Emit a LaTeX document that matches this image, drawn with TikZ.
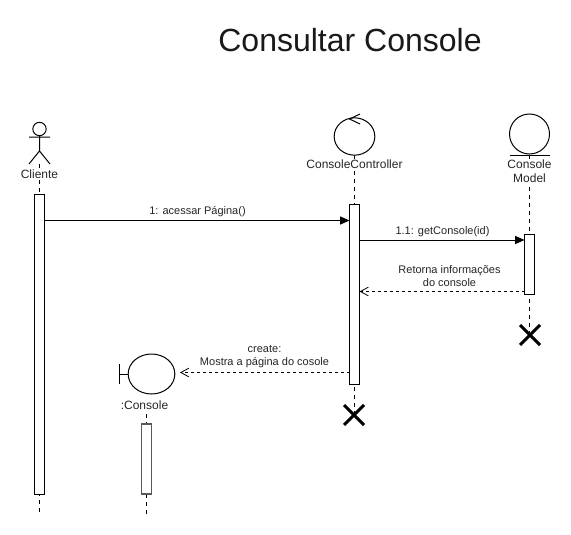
\documentclass[tikz,border=0pt]{standalone}
\usepackage{fontspec}
\setmainfont{Liberation Sans}
\usetikzlibrary{arrows.meta,shapes.geometric}
\tikzset{
  x=0.75pt,y=-0.75pt,
  every node/.style={inner sep=0pt,outer sep=0pt},
  lbl/.style={font=\fontsize{8.25pt}{9.75pt}\selectfont,align=center,text=black!85},
  namelbl/.style={font=\fontsize{9pt}{10.5pt}\selectfont,align=center,text=black!85,fill=white,inner xsep=1pt,inner ysep=1pt},
  life/.style={draw=black,line width=0.75pt,dash pattern=on 3pt off 3pt},
  activation/.style={draw=black,fill=white,line width=0.75pt,minimum width=7.5pt,anchor=north},
  msg/.style={draw=black,line width=0.75pt,-{Triangle[length=7pt,width=6pt]}},
  reply/.style={draw=black,line width=0.75pt,dash pattern=on 2.25pt off 2.25pt,-{Straight Barb[length=6pt,width=6.5pt,line width=0.6pt]}},
  shapeline/.style={draw=black,line width=0.75pt},
  destroy/.style={draw=black,line width=2.2pt}
}
\begin{document}
\begin{tikzpicture}
\useasboundingbox (0,0) rectangle (571,535);
\fill[white] (0,0) rectangle (571,535);
\node[font=\fontsize{24pt}{28pt}\selectfont,text=black!90] (title) at (350,40) {Consultar Console};

% lifeline end coordinates
\coordinate (clienteTop) at (39.5,164);
\coordinate (clienteEnd) at (39.5,514);
\coordinate (ctrlTop) at (354.5,155);
\coordinate (ctrlEnd) at (354.5,414);
\coordinate (modelTop) at (529.5,155);
\coordinate (modelEnd) at (529.5,335);
\coordinate (bndTop) at (146.5,414);
\coordinate (bndEnd) at (146.5,514);

\draw[life] (clienteTop) -- (clienteEnd);
\draw[life] (ctrlTop) -- (ctrlEnd);
\draw[life] (modelTop) -- (modelEnd);
\draw[life] (bndTop) -- (bndEnd);

% actor
\draw[shapeline] (39.5,129) circle[radius=5pt];
\draw[shapeline] (39.5,135.7) -- (39.5,151) (29,137) -- (50,137) (29,164) -- (39.5,151) -- (50,164);
\node[namelbl] (cliente) at (39.5,174.5) {Cliente};

% control
\node[draw=black,line width=0.75pt,ellipse,minimum width=30.5pt,minimum height=28pt,fill=white] (ctrl) at (354.5,136.5) {};
\draw[shapeline] (360,114) -- (349.5,119) -- (360,124);
\node[namelbl] (ctrlL) at (354.5,164.5) {ConsoleController};

% entity
\node[draw=black,line width=0.75pt,circle,minimum size=30pt,fill=white] (model) at (529.5,134) {};
\draw[shapeline] (509.5,155) -- (549.5,155);
\node[namelbl] (modelL) at (529.5,171.5) {Console\\Model};

% boundary
\node[draw=black,line width=0.75pt,ellipse,minimum width=35pt,minimum height=30pt,fill=white] (bnd) at (151.5,374) {};
\draw[shapeline] (119.5,364) -- (119.5,384) (119.5,374) -- (bnd.west);
\node[namelbl] (bndL) at (144.5,405.5) {:Console};

% activations
\node[activation,minimum height=225pt] (aCliente) at (39.5,194) {};
\node[activation,minimum height=135pt] (aCtrl) at (354.5,204) {};
\node[activation,minimum height=45pt] (aModel) at (529.5,234) {};
\node[activation,minimum height=52.5pt,draw=black!65,line width=1pt] (aBnd) at (146.5,424) {};

% destroy marks
\draw[destroy] (520,325) -- (540,345) (520,345) -- (540,325);
\draw[destroy] (344,405) -- (364,425) (344,425) -- (364,405);

% messages
\coordinate (m1a) at (aCliente.east |- 0,220.5);
\coordinate (m1b) at (aCtrl.west |- 0,220.5);
\draw[msg] (m1a) -- (m1b);
\node[lbl] (m1) at (197.5,212) {1: acessar Página()};

\coordinate (m2a) at (aCtrl.east |- 0,240);
\coordinate (m2b) at (aModel.west |- 0,240);
\draw[msg] (m2a) -- (m2b);
\node[lbl] (m2) at (442.5,232) {1.1: getConsole(id)};

\coordinate (m3a) at (aModel.west |- 0,291.5);
\coordinate (m3b) at (aCtrl.east |- 0,291.5);
\draw[reply] (m3a) -- (m3b);
\node[lbl] (m3) at (449.5,276.5) {Retorna informações\\do console};

\coordinate (m4a) at (aCtrl.west |- 0,372.5);
\coordinate (m4b) at (180,372.5);
\draw[reply] (m4a) -- (m4b);
\node[lbl] (m4) at (264.5,357) {create:\\Mostra a página do cosole};
\end{tikzpicture}
\end{document}
